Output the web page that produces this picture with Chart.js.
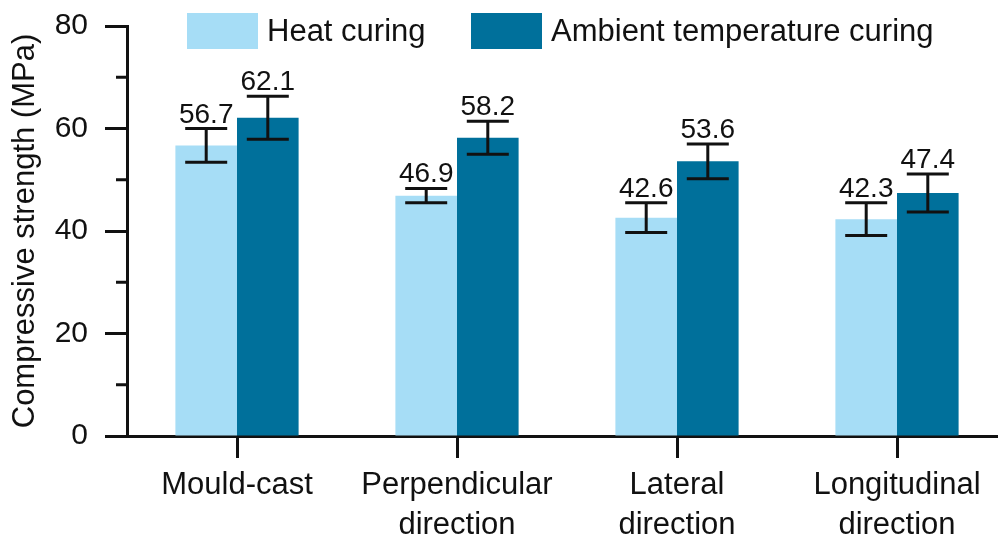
<!DOCTYPE html>
<html>
<head>
<meta charset="utf-8">
<script src="https://cdn.jsdelivr.net/npm/chart.js@4/dist/chart.umd.min.js"></script>
<style>
  html, body { margin: 0; padding: 0; background: #fff; overflow: hidden; }
  #wrap { width: 998px; height: 537px; overflow: hidden; position: relative; }
  canvas { display: block; }
</style>
</head>
<body>
<div id="wrap"><canvas id="c" width="1010" height="537"></canvas></div>
<script>
// ---- data ----
const categories = ['Mould-cast', ['Perpendicular', 'direction'], ['Lateral', 'direction'], ['Longitudinal', 'direction']];
const seriesNames = ['Heat curing', 'Ambient temperature curing'];
const heatValues = [56.7, 46.9, 42.6, 42.3];
const ambientValues = [62.1, 58.2, 53.6, 47.4];
const heatErrors = [3.3, 1.4, 2.9, 3.2];
const ambientErrors = [4.2, 3.2, 3.4, 3.7];
const yMajorTicks = [0, 20, 40, 60, 80];
const yMinorTicks = [10, 30, 50, 70];

const FONT = '"Liberation Sans", Arial, sans-serif';
const INK = '#111';
const colors = ['#a6ddf6', '#00709b'];
const errors = [heatErrors, ambientErrors];

const overlay = {
  id: 'overlay',
  afterDatasetsDraw(chart) {
    const ctx = chart.ctx;
    const y = chart.scales.y;
    ctx.save();
    chart.data.datasets.forEach((ds, di) => {
      const meta = chart.getDatasetMeta(di);
      meta.data.forEach((bar, i) => {
        const v = ds.data[i];
        const e = errors[di][i];
        const yTop = y.getPixelForValue(v + e);
        const yBot = y.getPixelForValue(v - e);
        const x = bar.x;
        ctx.strokeStyle = INK;
        ctx.lineWidth = 3;
        ctx.beginPath();
        ctx.moveTo(x, yTop); ctx.lineTo(x, yBot);
        ctx.moveTo(x - 21, yTop); ctx.lineTo(x + 21, yTop);
        ctx.moveTo(x - 21, yBot); ctx.lineTo(x + 21, yBot);
        ctx.stroke();
        ctx.fillStyle = INK;
        ctx.font = '28px ' + FONT;
        ctx.textAlign = 'center';
        ctx.textBaseline = 'alphabetic';
        ctx.fillText(v.toFixed(1), x, yTop - 6);
      });
    });
    ctx.restore();
  },
  afterDraw(chart) {
    const ctx = chart.ctx;
    const y = chart.scales.y;
    const left = chart.chartArea.left;
    ctx.save();
    // minor ticks
    ctx.strokeStyle = INK;
    ctx.lineWidth = 3;
    ctx.beginPath();
    yMinorTicks.forEach(v => {
      const py = y.getPixelForValue(v);
      ctx.moveTo(left - 11, py); ctx.lineTo(left, py);
    });
    ctx.stroke();
    // legend
    const items = [{x: 187, tx: 267}, {x: 471, tx: 551}];
    ctx.font = '31px ' + FONT;
    ctx.textAlign = 'left';
    ctx.textBaseline = 'middle';
    items.forEach((it, i) => {
      ctx.fillStyle = colors[i];
      ctx.fillRect(it.x, 13, 71, 36);
      ctx.fillStyle = INK;
      ctx.fillText(seriesNames[i], it.tx, 32);
    });
    ctx.restore();
  }
};

new Chart(document.getElementById('c'), {
  type: 'bar',
  data: {
    labels: categories,
    datasets: [
      { label: seriesNames[0], data: heatValues, backgroundColor: colors[0], borderWidth: 0 },
      { label: seriesNames[1], data: ambientValues, backgroundColor: colors[1], borderWidth: 0 }
    ]
  },
  options: {
    responsive: false,
    animation: false,
    devicePixelRatio: 1,
    categoryPercentage: 0.56,
    barPercentage: 1.0,
    layout: { padding: { top: 26, left: 0, right: 3, bottom: 0 } },
    plugins: { legend: { display: false }, tooltip: { enabled: false } },
    scales: {
      x: {
        offset: true,
        grid: { offset: false, drawOnChartArea: false, drawTicks: true, tickLength: 22, tickWidth: 3, tickColor: INK },
        border: { display: true, color: INK, width: 3 },
        ticks: { color: INK, font: { family: FONT, size: 31, lineHeight: 1.27 }, padding: 8, maxRotation: 0, autoSkip: false },
        afterFit(s) { s.height = 101; }
      },
      y: {
        min: 0, max: 80,
        afterBuildTicks(s) { s.ticks = yMajorTicks.map(v => ({ value: v })); },
        grid: { drawOnChartArea: false, drawTicks: true, tickLength: 22, tickWidth: 3, tickColor: INK },
        border: { display: true, color: INK, width: 3 },
        ticks: { color: INK, font: { family: FONT, size: 30, lineHeight: 0.6 }, padding: 17 },
        title: { display: true, text: 'Compressive strength (MPa)', color: INK, font: { family: FONT, size: 31 }, padding: { top: 7, bottom: 0 } },
        afterFit(s) { s.width = 127; s.paddingTop = 0; s.paddingBottom = 0; }
      }
    }
  },
  plugins: [overlay]
});
</script>
</body>
</html>
